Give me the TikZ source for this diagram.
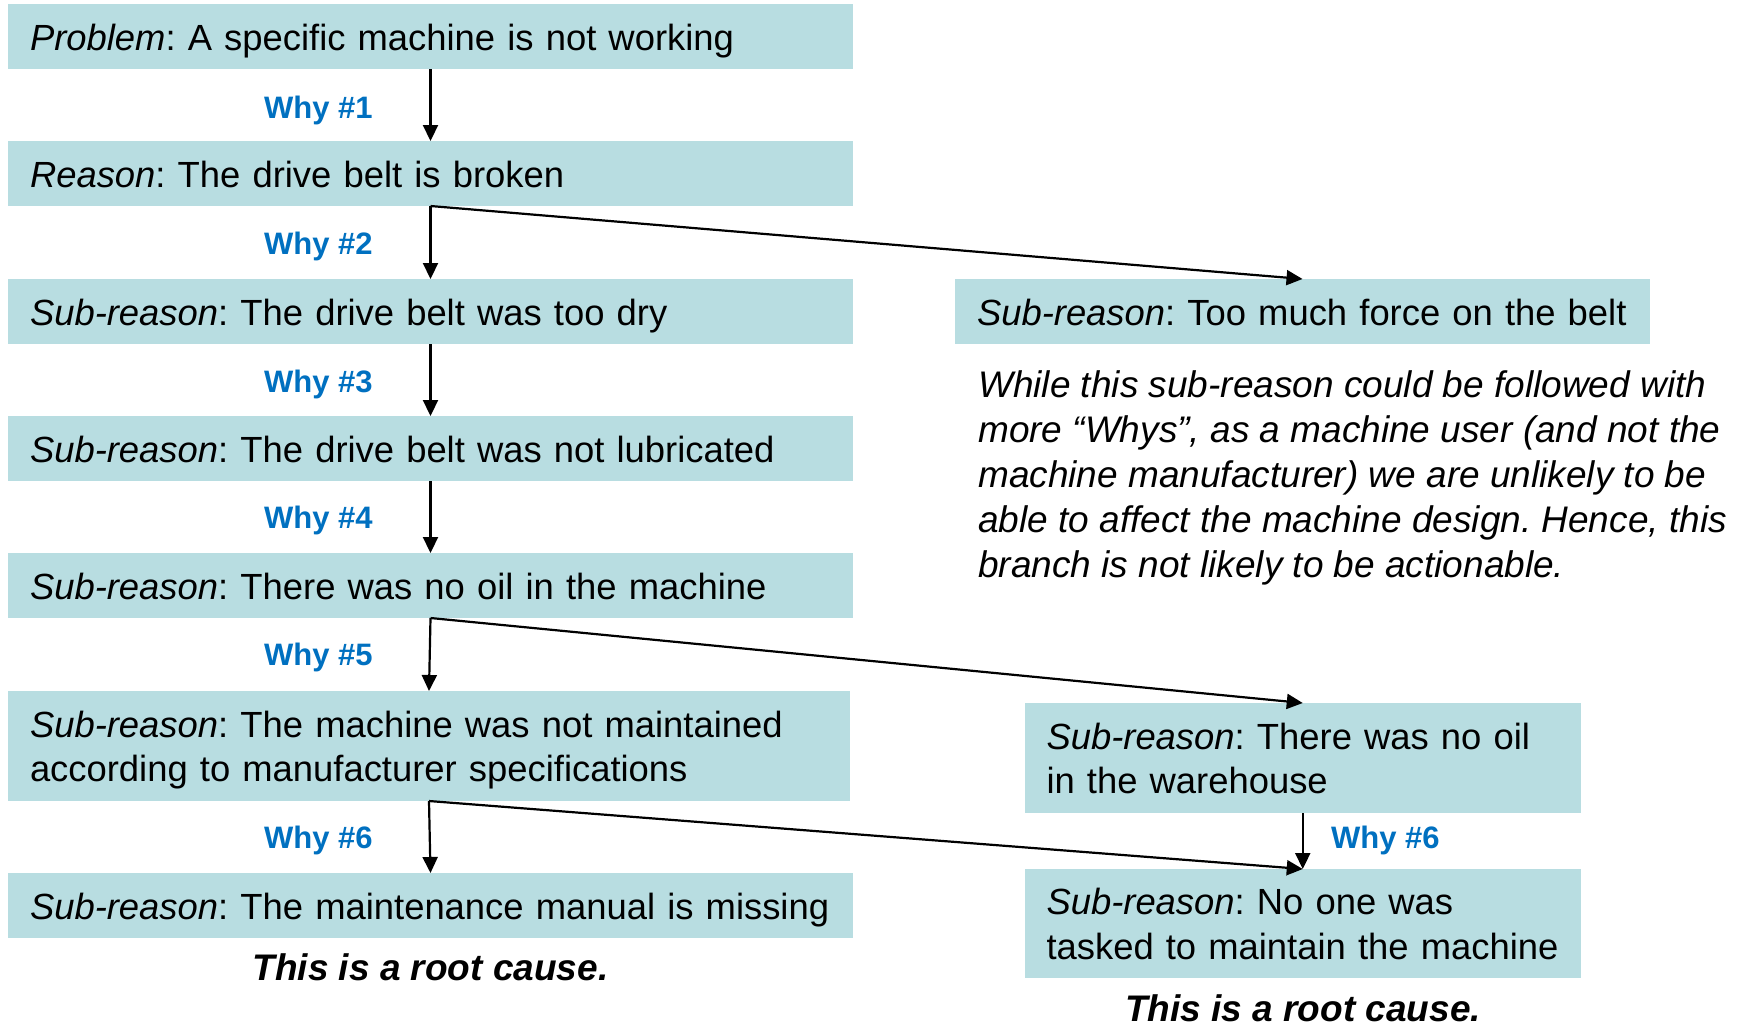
\documentclass[tikz,border=0pt]{standalone}
\usepackage{fontspec}
\setmainfont{Liberation Sans}
\usetikzlibrary{arrows.meta}
\definecolor{boxfill}{RGB}{184,221,225}
\definecolor{whyblue}{RGB}{0,112,192}
\frenchspacing
\begin{document}
\begin{tikzpicture}[x=1pt,y=-1pt,
  box/.style={rectangle, fill=boxfill, inner xsep=22pt, inner ysep=0pt, outer sep=0pt,
    anchor=north west, align=left, font=\fontsize{36.4}{44.4}\selectfont, text height=27pt},
  oneline/.style={box, text depth=0pt, minimum height=65pt},
  twoline/.style={box, text depth=44.4pt, minimum height=110pt},
  why/.style={anchor=base west, inner sep=0pt, font=\fontsize{31}{37}\selectfont\bfseries, text=whyblue},
  root/.style={anchor=base, inner sep=0pt, font=\fontsize{37}{44}\selectfont\bfseries\itshape},
  conn/.style={line width=2.2pt, -{Triangle[length=16pt,width=15pt]}}]
\useasboundingbox (0,0) rectangle (1748,1026);

% left column
\node[oneline, text width=801pt] (problem) at (8,4) {\mbox{\textit{Problem}: A specific machine is not working}};
\node[oneline, text width=801pt] (reason) at (8,141) {\mbox{\textit{Reason}: The drive belt is broken}};
\node[oneline, text width=801pt] (dry) at (8,279) {\mbox{\textit{Sub-reason}: The drive belt was too dry}};
\node[oneline, text width=801pt] (lub) at (8,416) {\mbox{\textit{Sub-reason}: The drive belt was not lubricated}};
\node[oneline, text width=801pt] (nooil) at (8,553) {\mbox{\textit{Sub-reason}: There was no oil in the machine}};
\node[twoline, text width=798pt] (maintained) at (8,691) {\mbox{\textit{Sub-reason}: The machine was not maintained}\\\mbox{according to manufacturer specifications}};
\node[oneline, text width=801pt] (manual) at (8,873) {\mbox{\textit{Sub-reason}: The maintenance manual is missing}};

% right column
\node[oneline, text width=651pt] (toomuch) at (955,279) {\mbox{\textit{Sub-reason}: Too much force on the belt}};
\node[twoline, text width=512.5pt] (warehouse) at (1024.5,703) {\mbox{\textit{Sub-reason}: There was no oil}\\\mbox{in the warehouse}};
\node[twoline, text width=512.5pt, minimum height=109pt] (noone) at (1024.5,869) {\mbox{\textit{Sub-reason}: No one was}\\\mbox{tasked to maintain the machine}};

\node[anchor=base west, align=left, inner sep=0pt, font=\fontsize{37}{45}\selectfont\itshape] (note) at (978,577)
  {While this sub-reason could be followed with\\more “Whys”, as a machine user (and not the\\machine manufacturer) we are unlikely to be\\able to affect the machine design. Hence, this\\branch is not likely to be actionable.};

% why labels
\node[why] (w1) at (264,118) {Why \#1};
\node[why] (w2) at (264,254) {Why \#2};
\node[why] (w3) at (264,392) {Why \#3};
\node[why] (w4) at (264,528) {Why \#4};
\node[why] (w5) at (264,665) {Why \#5};
\node[why] (w6) at (264,848) {Why \#6};
\node[why] (w6r) at (1331,848) {Why \#6};

% root cause labels
\node[root] (root1) at (430.5,980) {This is a root cause.};
\node[root] (root2) at (1303,1021) {This is a root cause.};

% connectors
\draw[conn] (problem.south) -- (reason.north);
\draw[conn] (reason.south) -- (dry.north);
\draw[conn] (reason.south) -- (toomuch.north);
\draw[conn] (dry.south) -- (lub.north);
\draw[conn] (lub.south) -- (nooil.north);
\draw[conn] (nooil.south) -- (maintained.north);
\draw[conn] (nooil.south) -- (warehouse.north);
\draw[conn] (maintained.south) -- (manual.north);
\draw[conn] (maintained.south) -- (noone.north);
\draw[conn] (warehouse.south) -- (noone.north);
\end{tikzpicture}
\end{document}
